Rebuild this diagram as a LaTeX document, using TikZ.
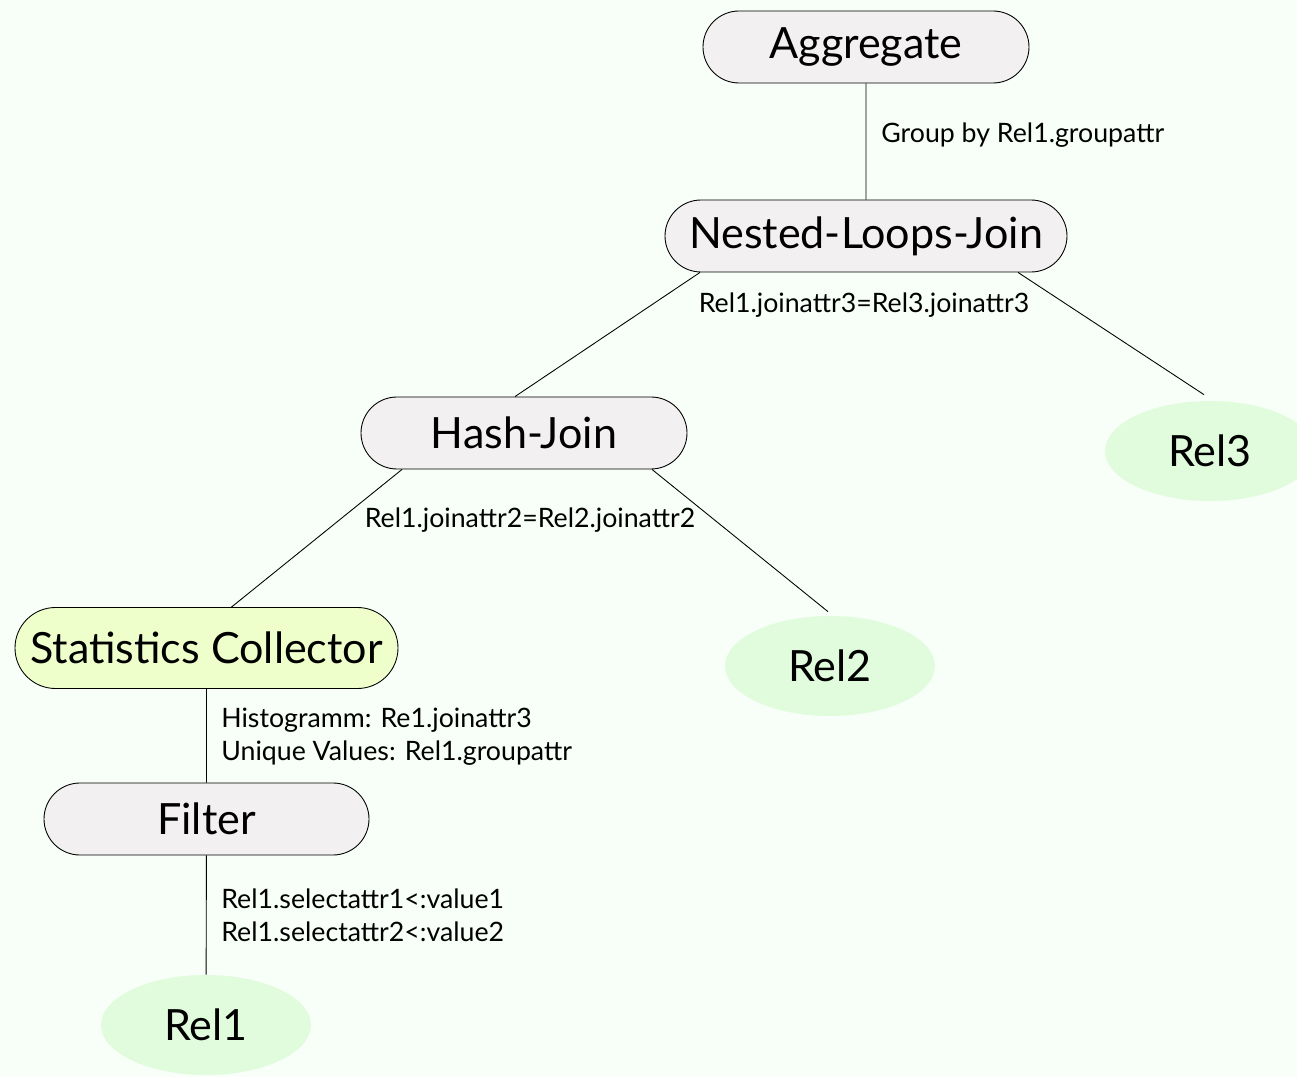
\documentclass[tikz,border=0pt]{standalone}
\usepackage{fontspec}
\setmainfont{Lato}
\usetikzlibrary{shapes.misc,shapes.geometric}
\definecolor{bgcol}{RGB}{248,255,248}
\definecolor{opgray}{RGB}{242,240,240}
\definecolor{statgreen}{RGB}{238,255,204}
\definecolor{relgreen}{RGB}{224,252,220}
\begin{document}
\begin{tikzpicture}[op/.style={rounded rectangle, draw, fill=opgray,
      line width=0.5pt, minimum height=1.44cm, inner sep=0pt,
      font=\fontsize{24.5}{28}\selectfont},
    rel/.style={ellipse, fill=relgreen, minimum width=4.2cm,
      minimum height=2cm, inner sep=0pt, font=\fontsize{24.5}{28}\selectfont},
    lbl/.style={inner sep=0pt, align=left,
      font=\fontsize{15.2}{18.7}\selectfont}]
    \useasboundingbox [fill=bgcol] (0,0) rectangle (25.94,-21.54);
    \begin{scope}[every node/.style={op}]
      \node [minimum width=6.52cm] (agg) at (17.32,-0.94) {Aggregate};
      \node [minimum width=8.04cm] (nlj) at (17.32,-4.72)
      {Nested-Loops-Join}; \node [minimum width=6.52cm] (hj) at
      (10.48,-8.66) {Hash-Join}; \node [minimum width=7.66cm, minimum
      height=1.62cm, fill=statgreen] (stats) at (4.13,-12.96)
      {Statistics Collector}; \node [minimum width=6.5cm] (filter) at
      (4.13,-16.38) {Filter};
    \end{scope}
    \begin{scope}[every node/.style={rel}]
      \node (rel3) at (24.2,-9.02) {Rel3}; \node (rel2) at
      (16.6,-13.32) {Rel2}; \node (rel1) at (4.12,-20.5) {Rel1};
    \end{scope}
    \begin{scope}[line width=0.5pt]
      \draw (agg) -- (nlj); \draw ([xshift=-3.32cm]nlj.south) --
      ([xshift=-0.18cm]hj.north); \draw ([xshift=3.04cm]nlj.south) --
      ([xshift=-0.12cm,yshift=0.12cm]rel3.north); \draw
      ([xshift=-2.44cm]hj.south) -- ([xshift=0.5cm]stats.north);
      \draw ([xshift=2.56cm]hj.south) --
      ([xshift=-0.04cm,yshift=0.08cm]rel2.north); \draw (stats) --
      (filter); \draw (filter) -- (rel1);
    \end{scope}
    \begin{scope}[every node/.style={lbl}]
      \node [anchor=base west] (grp) at (17.62,-2.86) {Group by
        Rel1.groupattr}; \node [anchor=base] (cond3) at (17.28,-6.26)
      {Rel1.joinattr3=Rel3.joinattr3}; \node [anchor=base] (cond2) at
      (10.6,-10.54) {Rel1.joinattr2=Rel2.joinattr2}; \node
      [anchor=west] (stat) at (4.42,-14.74) {Histogramm:
        Re1.joinattr3\\Unique Values: Rel1.groupattr}; \node
      [anchor=west] (sel) at (4.42,-18.3)
      {Rel1.selectattr1<:value1\\Rel1.selectattr2<:value2};
    \end{scope}
\end{tikzpicture}
\end{document}
